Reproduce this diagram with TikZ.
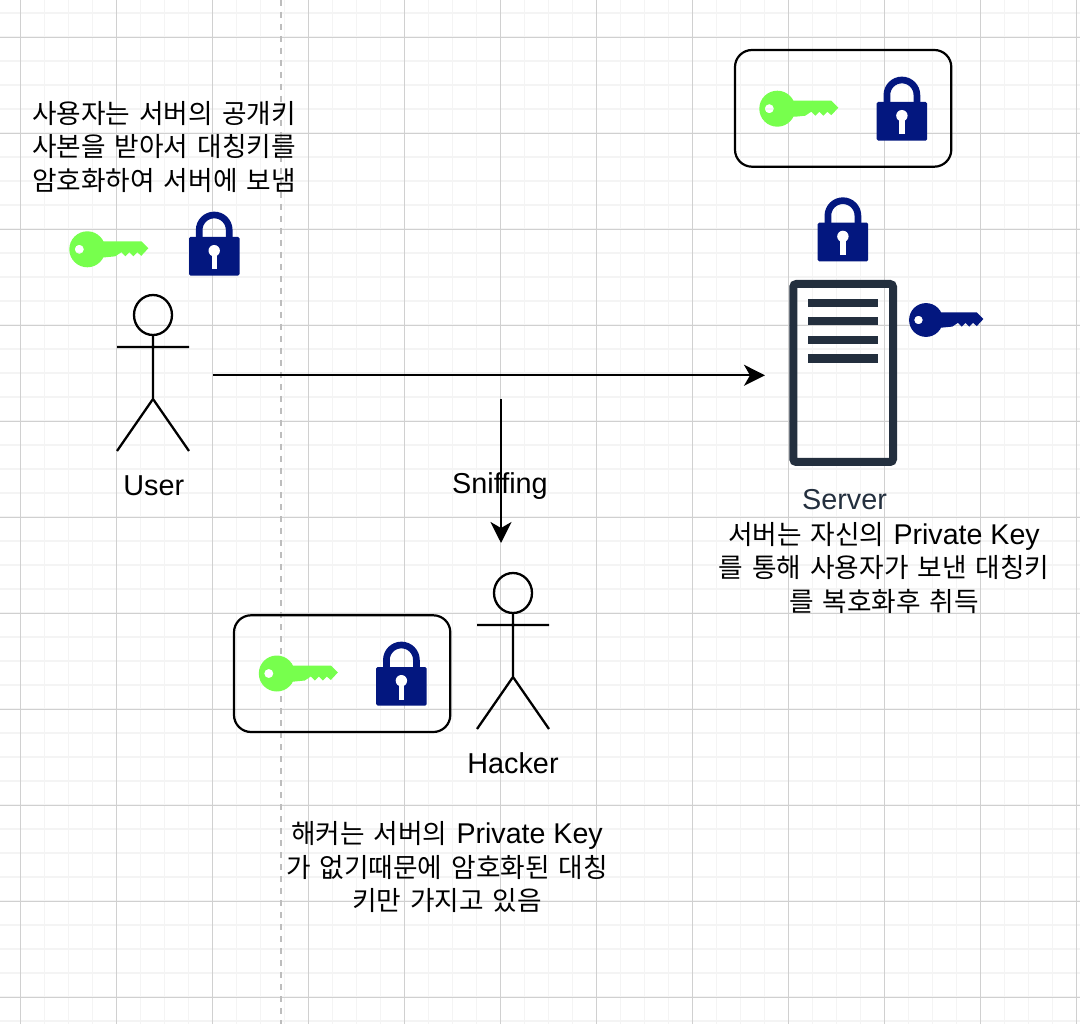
\documentclass[tikz,border=0pt]{standalone}
\usepackage{fontspec}
\setmainfont{Liberation Sans}
\newfontfamily\krfont[WordSpace=1.5]{Noto Sans CJK KR}
\usetikzlibrary{arrows.meta}
\definecolor{gridmaj}{HTML}{D0D0D0}
\definecolor{gridmin}{HTML}{F4F4F4}
\definecolor{divgray}{HTML}{BDBDBD}
\definecolor{navy}{HTML}{03177F}
\definecolor{lime}{HTML}{77FF4D}
\definecolor{ink}{HTML}{232F3E}
\newcommand{\lat}[1]{{\fontspec{Liberation Sans}\fontsize{28.6}{33.5}\selectfont #1}}
\tikzset{
  lbl/.style={font=\fontsize{26.7}{33.3}\selectfont\krfont, align=center, inner sep=0pt, text=black},
  latlbl/.style={font=\fontsize{28.8}{33.5}\selectfont, inner sep=0pt, text=black},
  wire/.style={draw=black, line width=2.3pt},
  arrowline/.style={wire, -{Stealth[length=21pt,width=21pt,inset=6pt]}},
  box/.style={draw=black, line width=2.2pt, rounded corners=17pt, outer sep=0pt, inner sep=0pt, minimum width=216.3pt, minimum height=116.7pt, anchor=north west},
  keypic/.pic={
    \fill[even odd rule, fill=#1]
      (0,0) ++(18,0) arc[start angle=0,end angle=360,radius=18]
      (-8,0) ++(4.6,0) arc[start angle=0,end angle=360,radius=4.6];
    \fill[fill=#1] (10,-8) -- (54,-8) -- (61,-1) -- (54,6.5) -- (50,3) -- (46,7) -- (42,3) -- (38,7) -- (34,3) -- (28,7) -- (18,8) -- (10,8) -- cycle;
  },
  lockpic/.pic={
    \fill[fill=navy, rounded corners=1.5pt] (0,0) rectangle (50.5,38.7);
    \fill[white] (25.2,13.7) circle[radius=5.7];
    \fill[white] (22.6,14) rectangle (27.8,32.5);
    \draw[navy, line width=6.7pt]
      (10.2,1) -- (10.2,-7) arc[start angle=180,end angle=360,radius=15] -- (40.2,1);
  }
}
\begin{document}
\begin{tikzpicture}[x=1pt,y=-1pt]
\useasboundingbox (0,0) rectangle (1080,1024);
\fill[white] (0,0) rectangle (1080,1024);
% grid
\foreach \i in {0,...,45} {\draw[gridmin, line width=1.8pt] ({-3.5+24*\i},0) -- ({-3.5+24*\i},1024);}
\foreach \j in {0,...,43} {\draw[gridmin, line width=1.8pt] (0,{13.3+24*\j}) -- (1080,{13.3+24*\j});}
\foreach \i in {0,...,11} {\draw[gridmaj, line width=1.1pt] ({20.5+96*\i},0) -- ({20.5+96*\i},1024);}
\foreach \j in {0,...,10} {\draw[gridmaj, line width=1.1pt] (0,{37.3+96*\j}) -- (1080,{37.3+96*\j});}
% dashed divider
\coordinate (divT) at (281,0);
\coordinate (divB) at (281,1024);
\draw[divgray, line width=1.6pt, dash pattern=on 6pt off 6pt] (divT) -- (divB);
% boxes
\node[box] (srvbox) at (735,50) {};
\node[box] (hackbox) at (234,615.3) {};
% keys and locks
\pic at (777.3,108.7) {keypic=lime};
\pic at (87.3,249.3) {keypic=lime};
\pic at (276.8,673.5) {keypic=lime};
\pic[scale=0.94] at (926,320) {keypic=navy};
\pic at (876.7,102) {lockpic};
\pic at (817.7,222.7) {lockpic};
\pic at (189,237) {lockpic};
\pic at (376.2,667) {lockpic};
% user actor
\draw[wire] (153,315) circle[x radius=19, y radius=20];
\draw[wire] (153,335) -- (153,399) (117,347) -- (189,347) (117,451) -- (153,399) -- (189,451);
% hacker actor
\draw[wire] (513,593) circle[x radius=19, y radius=20];
\draw[wire] (513,613) -- (513,677) (477,625) -- (549,625) (477,729) -- (513,677) -- (549,729);
% server
\draw[ink, line width=8pt, rounded corners=3pt] (793.3,284) rectangle (893,462);
\foreach \y in {299,317,336,354.3} {\fill[ink] (807.7,\y) rectangle (878.3,\y+8.3);}
% connector anchors
\coordinate (userOut) at (213,375.3);
\coordinate (srvIn) at (765,375.3);
\coordinate (snifTop) at (501,399);
\coordinate (snifEnd) at (501,543);
\draw[arrowline] (userOut) -- (srvIn);
\draw[arrowline] (snifTop) -- (snifEnd);
% labels
\node[latlbl] (ulbl) at (153.8,486) {User};
\node[latlbl] (hlbl) at (513,763.5) {Hacker};
\node[latlbl, text=ink] (slbl) at (844.5,500) {Server};
\node[latlbl] (snif) at (500,486) {Sniffing};
\node[lbl] (t1) at (164,147) {사용자는 서버의 공개키\\사본을 받아서 대칭키를\\암호화하여 서버에 보냄};
\node[lbl] (t2) at (884,568) {서버는 자신의 \lat{Private Key}\\를 통해 사용자가 보낸 대칭키\\를 복호화후 취득};
\node[lbl] (t3) at (447,867) {해커는 서버의 \lat{Private Key}\\가 없기때문에 암호화된 대칭\\키만 가지고 있음};
\end{tikzpicture}
\end{document}
